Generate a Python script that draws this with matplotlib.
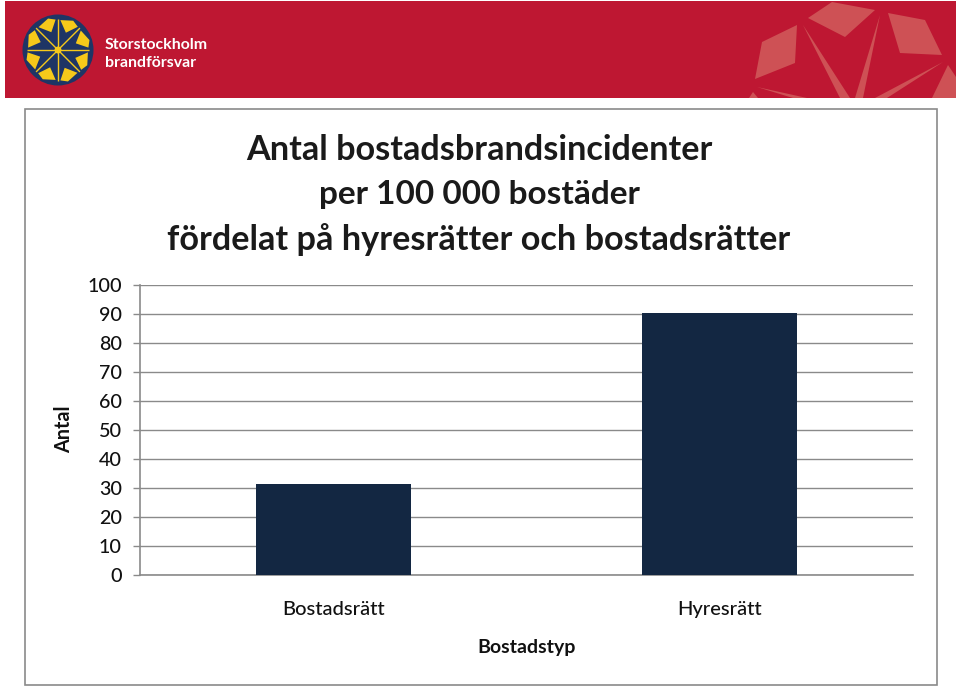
import numpy as np
import matplotlib
matplotlib.use("Agg")
import matplotlib.pyplot as plt
from matplotlib.patches import Polygon, Rectangle, Circle

categories = ["Bostadsrätt", "Hyresrätt"]
values = [31.5, 90.5]
y_ticks = list(range(0, 101, 10))
title_lines = ["Antal bostadsbrandsincidenter", "per 100 000 bostäder",
               "fördelat på hyresrätter och bostadsrätter"]
x_label = "Bostadstyp"
y_label = "Antal"

W, H = 960, 688
plt.rcParams['font.family'] = ['Lato', 'DejaVu Sans']
fig = plt.figure(figsize=(W / 100, H / 100), dpi=100, facecolor='white')

# page overlay in pixel coordinates
bg = fig.add_axes([0, 0, 1, 1], zorder=0)
bg.set_xlim(0, W); bg.set_ylim(H, 0); bg.axis('off')
RED = '#BE1732'
PALE = '#CE5155'
bg.add_patch(Rectangle((5, 1), 951, 97, fc=RED, ec='none'))
for pts in [
    [(808, 18), (832, 2), (875, 10), (845, 37)],
    [(762, 42), (797, 25), (795, 63), (755, 79)],
    [(888, 13), (925, 20), (942, 55), (900, 53)],
    [(948, 65), (956, 77), (956, 98), (932, 98)],
    [(749, 98), (753, 92), (758, 98)],
    [(803, 25), (850, 98), (840, 98)],
    [(880, 15), (863, 98), (855, 98)],
    [(943, 62), (887, 98), (875, 98)],
    [(757, 87), (807, 98), (793, 98)],
]:
    bg.add_patch(Polygon(pts, closed=True, fc=PALE, ec='none'))

# logo
cx, cy, R = 58, 50, 35.5
NAVY = '#1E3565'
YEL = '#F6C91A'
bg.add_patch(Circle((cx, cy), R, fc=NAVY, ec='none'))
for k in range(8):
    a = 22.5 + 45 * k - 90
    pts = [(cx + r * np.cos(np.deg2rad(a + o)), cy + r * np.sin(np.deg2rad(a + o)))
           for r, o in [(30, -18), (33, 5), (30.5, 18), (19, 2)]]
    bg.add_patch(Polygon(pts, closed=True, fc=YEL, ec='none'))
    b = np.deg2rad(a + 22.5)
    bg.plot([cx, cx + 31 * np.cos(b)], [cy, cy + 31 * np.sin(b)],
            color=YEL, lw=1.0, solid_capstyle='butt')
bg.add_patch(Circle((cx, cy), 3.5, fc=YEL, ec='none'))

bg.text(104.5, 45, "Storstockholm", color='white', fontsize=11.4, fontweight='bold',
        va='center', ha='left')
bg.text(104.5, 63, "brandförsvar", color='white', fontsize=11.4, fontweight='bold',
        va='center', ha='left')

# slide frame
bg.add_patch(Rectangle((25, 109), 912, 576, fc='white', ec='#8A8A8A', lw=1.2))

# title
for line, y, fs in zip(title_lines, [150.5, 194.5, 239.5], [24.7, 24.0, 24.7]):
    bg.text(479, y, line, fontsize=fs, fontweight='bold', color='#1a1a1a',
            ha='center', va='center')

# chart
ax = fig.add_axes([140 / W, 1 - 575 / H, (913 - 140) / W, (575 - 285) / H], zorder=2)
ax.patch.set_alpha(0)
x = np.arange(len(categories))
ax.bar(x, values, width=0.4, color='#132742', zorder=3)
ax.set_xlim(-0.5, 1.5)
ax.set_ylim(0, 100)
ax.set_yticks(y_ticks)
ax.set_xticks(x, categories)
ax.grid(axis='y', color='#8A8A8A', lw=1.0, zorder=1)
ax.set_axisbelow(True)
for s in ['top', 'right']:
    ax.spines[s].set_visible(False)
for s in ['left', 'bottom']:
    ax.spines[s].set_color('#8A8A8A')
    ax.spines[s].set_linewidth(1.2)
ax.tick_params(axis='y', length=5, width=1.0, color='#8A8A8A', labelsize=14.2, pad=8,
               labelcolor='#111111')
ax.tick_params(axis='x', length=0, labelsize=14.5, pad=19, labelcolor='#111111')
for lab in ax.get_xticklabels() + ax.get_yticklabels():
    lab.set_fontweight('medium')

bg.text(527, 648, x_label, fontsize=14, fontweight='bold', color='#111111', ha='center', va='center')
bg.text(64, 429, y_label, fontsize=14.2, fontweight='bold', color='#111111', ha='center', va='center',
        rotation=90)

fig.savefig('out.png', dpi=100, facecolor='white')
